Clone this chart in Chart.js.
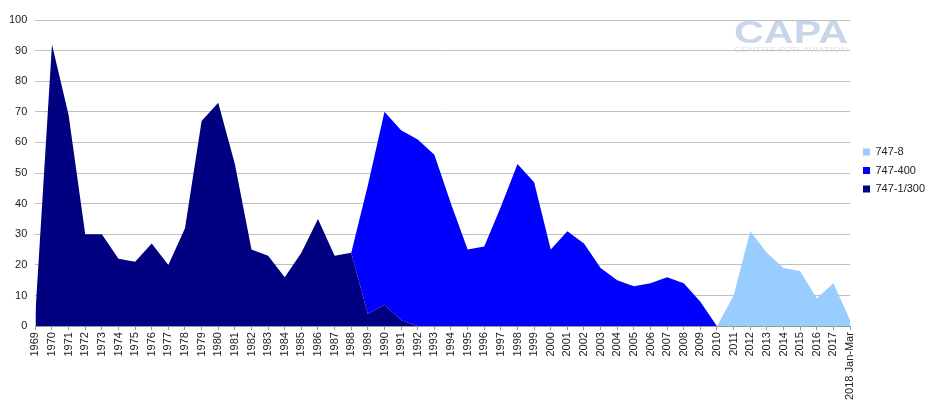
<!DOCTYPE html>
<html>
<head>
<meta charset="utf-8">
<script src="https://cdn.jsdelivr.net/npm/chart.js@4"></script>
<style>
html,body{margin:0;padding:0;background:#fff;}
#wrap{width:928px;height:410px;}
</style>
</head>
<body>
<div id="wrap"><canvas id="c" width="928" height="410"></canvas></div>
<script>
const years = ['1969','1970','1971','1972','1973','1974','1975','1976','1977','1978','1979','1980','1981','1982','1983','1984','1985','1986','1987','1988','1989','1990','1991','1992','1993','1994','1995','1996','1997','1998','1999','2000','2001','2002','2003','2004','2005','2006','2007','2008','2009','2010','2011','2012','2013','2014','2015','2016','2017','2018 Jan-Mar'];

const classic = [4,92,69,30,30,22,21,27,20,32,67,73,53,25,23,16,24,35,23,24,4,7,2,0,0,0,0,0,0,0,0,0,0,0,0,0,0,0,0,0,0,0,0,0,0,0,0,0,0,0];
const v400 = [0,0,0,0,0,0,0,0,0,0,0,0,0,0,0,0,0,0,0,0,42,63,62,61,56,40,25,26,39,53,47,25,31,27,19,15,13,14,16,14,8,0,0,0,0,0,0,0,0,0];
const v8 = [0,0,0,0,0,0,0,0,0,0,0,0,0,0,0,0,0,0,0,0,0,0,0,0,0,0,0,0,0,0,0,0,0,0,0,0,0,0,0,0,0,0,10,31,24,19,18,9,14,2];

const yTicks = [0,10,20,30,40,50,60,70,80,90,100];

const FONT = '"Liberation Sans", Arial, sans-serif';
const LEG_PAD = 7.5;

const watermark = {
  id: 'watermark',
  afterDraw(chart) {
    const ctx = chart.ctx;
    ctx.save();
    ctx.fillStyle = 'rgba(190,208,228,0.85)';
    ctx.textBaseline = 'alphabetic';
    ctx.font = 'bold 32px ' + FONT;
    const w = ctx.measureText('CAPA').width;
    ctx.translate(734, 43);
    ctx.scale(114 / w, 1);
    ctx.fillText('CAPA', 0, 0);
    ctx.restore();
    ctx.save();
    ctx.fillStyle = 'rgba(205,218,232,0.8)';
    ctx.font = '7px ' + FONT;
    const w2 = ctx.measureText('CENTRE FOR AVIATION').width;
    ctx.translate(734, 52);
    ctx.scale(114 / w2, 1);
    ctx.fillText('CENTRE FOR AVIATION', 0, 0);
    ctx.restore();
  }
};

const legendPlacer = {
  id: 'legendPlacer',
  afterLayout(chart) {
    const lg = chart.legend;
    if (!lg) return;
    const dx = 863 - (lg.left + LEG_PAD);
    lg.left += dx; lg.right += dx;
    lg.top = 139;
  }
};

new Chart(document.getElementById('c'), {
  type: 'line',
  data: {
    labels: years,
    datasets: [
      { label: '747-1/300', data: classic, backgroundColor: '#000080', borderColor: '#000080', borderWidth: 0, fill: 'origin', pointRadius: 0, tension: 0 },
      { label: '747-400', data: v400, backgroundColor: '#0000FF', borderColor: '#0000FF', borderWidth: 0, fill: '-1', pointRadius: 0, tension: 0 },
      { label: '747-8', data: v8, backgroundColor: '#99CCFF', borderColor: '#99CCFF', borderWidth: 0, fill: '-1', pointRadius: 0, tension: 0 }
    ]
  },
  options: {
    responsive: false,
    animation: false,
    layout: { padding: { left: 1, top: 20, right: 0, bottom: 8 } },
    plugins: {
      tooltip: { enabled: false },
      legend: {
        position: 'right',
        align: 'start',
        reverse: true,
        maxWidth: 78,
        labels: {
          boxWidth: 7, boxHeight: 7, padding: LEG_PAD,
          color: '#222',
          font: { family: FONT, size: 11 }
        }
      }
    },
    scales: {
      x: {
        offset: false,
        grid: { display: true, drawOnChartArea: false, drawTicks: true, tickLength: 4, color: '#999' },
        border: { display: true, color: '#999' },
        ticks: { autoSkip: false, maxRotation: 90, minRotation: 90, padding: 2, color: '#222', font: { family: FONT, size: 11 } }
      },
      y: {
        stacked: true,
        min: 0, max: 100,
        afterBuildTicks(axis) { axis.ticks = yTicks.map(v => ({ value: v })); },
        grid: { color: '#c0c0c0', drawTicks: false },
        border: { display: false },
        ticks: { padding: 8, color: '#222', font: { family: FONT, size: 11 } }
      }
    }
  },
  plugins: [watermark, legendPlacer]
});
</script>
</body>
</html>
